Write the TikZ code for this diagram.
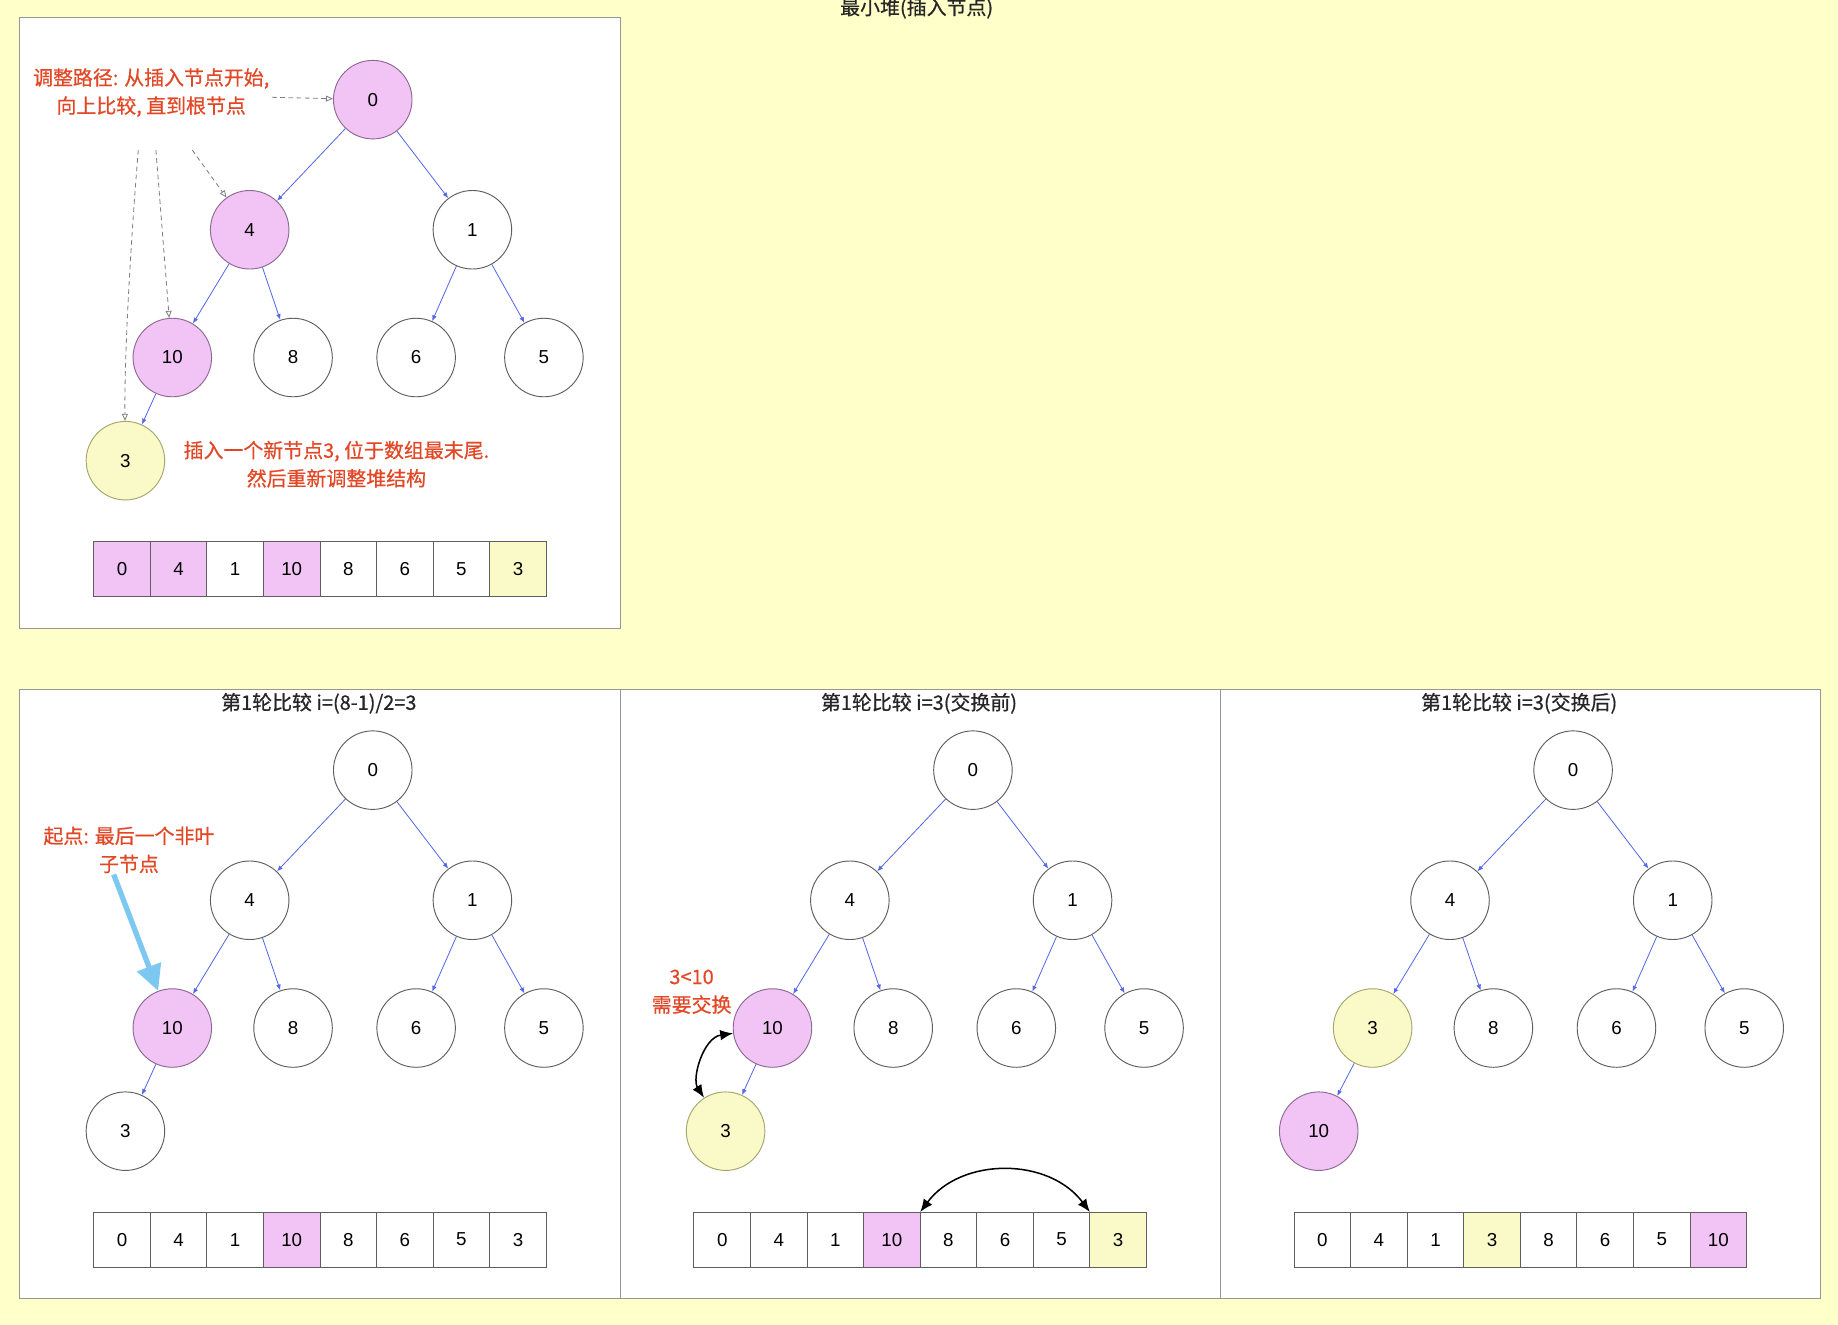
\documentclass[tikz,border=0pt]{standalone}
\usepackage{fontspec}
\setmainfont{Liberation Sans}
\newfontfamily\cjk{Noto Sans CJK SC}
\newfontfamily\cjkm[FakeBold=0.6]{Noto Sans CJK SC}
\usetikzlibrary{arrows.meta,shapes.geometric}
\definecolor{bgy}{RGB}{255,255,202}
\definecolor{pinkc}{RGB}{242,196,246}
\definecolor{pinkb}{RGB}{140,105,145}
\definecolor{yellc}{RGB}{250,250,200}
\definecolor{yellb}{RGB}{165,165,110}
\definecolor{nodeb}{RGB}{95,95,95}
\definecolor{edgeb}{RGB}{85,105,230}
\definecolor{redt}{RGB}{226,72,38}
\definecolor{panelb}{RGB}{150,150,150}
\definecolor{skyb}{RGB}{125,200,240}
\begin{document}
\begin{tikzpicture}[x=1pt,y=-1pt,
  hn/.style={circle,draw=nodeb,fill=white,line width=0.8pt,minimum size=67pt,inner sep=0pt,font=\fontsize{16}{19}\selectfont},
  pinkn/.style={fill=pinkc,draw=pinkb},
  yelln/.style={fill=yellc,draw=yellb},
  cell/.style={rectangle,draw=nodeb,line width=0.8pt,minimum width=48.25pt,minimum height=47pt,inner sep=0pt,outer sep=0pt,font=\fontsize{16}{19}\selectfont},
  tedge/.style={draw=edgeb,line width=0.7pt,-{Latex[length=5pt,width=4pt]}},
  dedge/.style={draw=gray,line width=0.7pt,dash pattern=on 4pt off 3pt,-{Triangle[open,length=6pt,width=5pt]}},
  swap/.style={draw=black,line width=1.3pt,{Latex[length=11pt,width=9pt]}-{Latex[length=11pt,width=9pt]}},
  note/.style={text=redt,align=center,font=\cjkm\fontsize{17}{24}\selectfont},
  ptitle/.style={text=black!85,font=\cjkm\fontsize{17}{20}\selectfont},
  panel/.style={draw=panelb,line width=0.9pt,fill=white}]
\fill[bgy] (0,0) rectangle (1568,1130);
\useasboundingbox (0,0) rectangle (1568,1130);
% panels
\draw[panel] (17,15) rectangle (529,536);
\draw[panel] (17,588) rectangle (529,1108);
\draw[panel] (529,588) rectangle (1041,1108);
\draw[panel] (1041,588) rectangle (1553,1108);
% title
\node[ptitle] (title) at (782,7) {最小堆(插入节点)};
% ===== top panel =====
\node[hn,pinkn] (t0) at (318,85) {0};
\node[hn,pinkn] (t4) at (213,196) {4};
\node[hn] (t1) at (403,196) {1};
\node[hn,pinkn] (t10) at (147,305) {10};
\node[hn] (t8) at (250,305) {8};
\node[hn] (t6) at (355,305) {6};
\node[hn] (t5) at (464,305) {5};
\node[hn,yelln] (t3) at (107,393) {3};
\draw[tedge] (t0) -- (t4);
\draw[tedge] (t0) -- (t1);
\draw[tedge] (t4) -- (t10);
\draw[tedge] (t4) -- (t8);
\draw[tedge] (t1) -- (t6);
\draw[tedge] (t1) -- (t5);
\draw[tedge] (t10) -- (t3);
\foreach \v/\c [count=\i from 0] in {0/pinkc,4/pinkc,1/white,10/pinkc,8/white,6/white,5/white,3/yellc}
  \node[cell,fill=\c] (ta\i) at ({80+48.25*(\i+0.5)},485.5) {\v};
\node[note] (tn1) at (129,79) {调整路径: 从插入节点开始,\\向上比较, 直到根节点};
\node[note] (tn2) at (287,396) {插入一个新节点3, 位于数组最末尾.\\然后重新调整堆结构};
\coordinate (c1) at (118,128);
\coordinate (c2) at (133,128);
\coordinate (c3) at (164,128);
\coordinate (c4) at (232,83);
\draw[dedge] (c4) -- (t0);
\draw[dedge] (c3) -- (t4);
\draw[dedge] (c2) -- (t10);
\draw[dedge] (c1) .. controls (112,200) and (106,300) .. (t3);
% ===== panel 1 =====
\node[ptitle] (pt) at (272,600) {第1轮比较 i=(8-1)/2=3};
\node[hn] (p0) at (318,657) {0};
\node[hn] (p4) at (213,768) {4};
\node[hn] (p1) at (403,768) {1};
\node[hn,pinkn] (p10) at (147,877) {10};
\node[hn] (p8) at (250,877) {8};
\node[hn] (p6) at (355,877) {6};
\node[hn] (p5) at (464,877) {5};
\node[hn] (p3) at (107,965) {3};
\draw[tedge] (p0) -- (p4);
\draw[tedge] (p0) -- (p1);
\draw[tedge] (p4) -- (p10);
\draw[tedge] (p4) -- (p8);
\draw[tedge] (p1) -- (p6);
\draw[tedge] (p1) -- (p5);
\draw[tedge] (p10) -- (p3);
\foreach \v/\c [count=\i from 0] in {0/white,4/white,1/white,10/pinkc,8/white,6/white,5/white,3/white}
  \node[cell,fill=\c] (pa\i) at ({80+48.25*(\i+0.5)},1057.5) {\v};
\node[note] (pn) at (110,725) {起点: 最后一个非叶\\子节点};
\coordinate (ps) at (97,746);
\draw[draw=skyb,line width=4.5pt,-{Triangle[length=22pt,width=21pt]}] (ps) -- (p10);
% ===== panel 2 =====
\node[ptitle] (qt) at (784,600) {第1轮比较 i=3(交换前)};
\node[hn] (q0) at (830,657) {0};
\node[hn] (q4) at (725,768) {4};
\node[hn] (q1) at (915,768) {1};
\node[hn,pinkn] (q10) at (659,877) {10};
\node[hn] (q8) at (762,877) {8};
\node[hn] (q6) at (867,877) {6};
\node[hn] (q5) at (976,877) {5};
\node[hn,yelln] (q3) at (619,965) {3};
\draw[tedge] (q0) -- (q4);
\draw[tedge] (q0) -- (q1);
\draw[tedge] (q4) -- (q10);
\draw[tedge] (q4) -- (q8);
\draw[tedge] (q1) -- (q6);
\draw[tedge] (q1) -- (q5);
\draw[tedge] (q10) -- (q3);
\foreach \v/\c [count=\i from 0] in {0/white,4/white,1/white,10/pinkc,8/white,6/white,5/white,3/yellc}
  \node[cell,fill=\c] (qa\i) at ({592+48.25*(\i+0.5)},1057.5) {\v};
\node[note] (qn) at (590,846) {3<10\\需要交换};
\draw[swap] (q10) .. controls (600,885) and (590,920) .. (q3);
\draw[swap] (qa3.north east) .. controls +(35,-47) and +(-35,-47) .. (qa7.north west);
% ===== panel 3 =====
\node[ptitle] (rt) at (1296,600) {第1轮比较 i=3(交换后)};
\node[hn] (r0) at (1342,657) {0};
\node[hn] (r4) at (1237,768) {4};
\node[hn] (r1) at (1427,768) {1};
\node[hn,yelln] (r3) at (1171,877) {3};
\node[hn] (r8) at (1274,877) {8};
\node[hn] (r6) at (1379,877) {6};
\node[hn] (r5) at (1488,877) {5};
\node[hn,pinkn] (r10) at (1125,965) {10};
\draw[tedge] (r0) -- (r4);
\draw[tedge] (r0) -- (r1);
\draw[tedge] (r4) -- (r3);
\draw[tedge] (r4) -- (r8);
\draw[tedge] (r1) -- (r6);
\draw[tedge] (r1) -- (r5);
\draw[tedge] (r3) -- (r10);
\foreach \v/\c [count=\i from 0] in {0/white,4/white,1/white,3/yellc,8/white,6/white,5/white,10/pinkc}
  \node[cell,fill=\c] (ra\i) at ({1104+48.25*(\i+0.5)},1057.5) {\v};
\end{tikzpicture}
\end{document}
